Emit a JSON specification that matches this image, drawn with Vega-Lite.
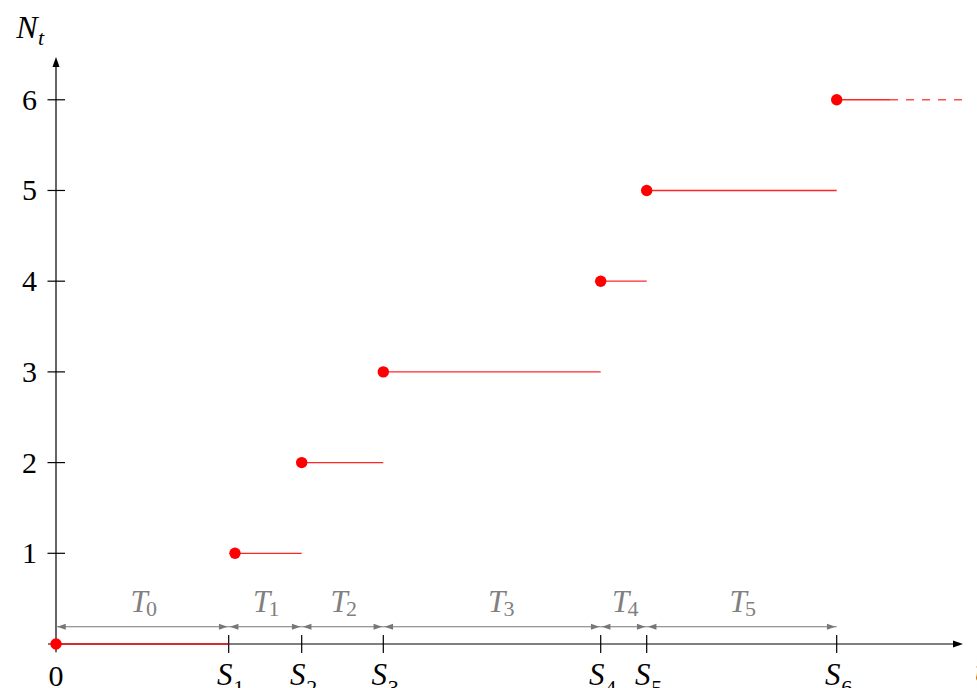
{
  "$schema": "https://vega.github.io/schema/vega-lite/v6.json",
  "width": 921,
  "height": 644,
  "autosize": {"type": "none"},
  "padding": {"left": 56, "top": 0, "right": 0, "bottom": 44},
  "config": {"view": {"stroke": null}, "text": {"font": "Liberation Serif, Times New Roman, DejaVu Serif, serif"}},
  "datasets": {
    "segs": [
      {"level": 0, "x0": 0, "x1": 1.727},
      {"level": 1, "x0": 1.79, "x1": 2.457},
      {"level": 2, "x0": 2.457, "x1": 3.273},
      {"level": 3, "x0": 3.273, "x1": 5.447},
      {"level": 4, "x0": 5.447, "x1": 5.907},
      {"level": 5, "x0": 5.907, "x1": 7.807},
      {"level": 6, "x0": 7.807, "x1": 8.34}
    ],
    "tail": [{"level": 6, "x0": 8.34, "x1": 9.07}],
    "events": [
      {"k": "1", "s": 1.727},
      {"k": "2", "s": 2.457},
      {"k": "3", "s": 3.273},
      {"k": "4", "s": 5.447},
      {"k": "5", "s": 5.907},
      {"k": "6", "s": 7.807}
    ],
    "intervals": [
      {"k": "0", "a": 0, "b": 1.727, "lx": 0.865},
      {"k": "1", "a": 1.727, "b": 2.457, "lx": 2.09},
      {"k": "2", "a": 2.457, "b": 3.273, "lx": 2.865},
      {"k": "3", "a": 3.273, "b": 5.447, "lx": 4.44},
      {"k": "4", "a": 5.447, "b": 5.907, "lx": 5.68},
      {"k": "5", "a": 5.907, "b": 7.807, "lx": 6.855}
    ],
    "one": [{}]
  },
  "layer": [
    {
      "data": {"name": "one"},
      "mark": {"type": "rule", "color": "black", "strokeWidth": 1.2},
      "encoding": {
        "x": {"datum": -0.08, "type": "quantitative", "scale": {"domain": [0, 9.21], "nice": false, "zero": false}, "axis": null},
        "x2": {"datum": 9.0},
        "y": {"datum": 0, "type": "quantitative", "scale": {"domain": [0, 7.1], "nice": false, "zero": false}, "axis": null}
      }
    },
    {
      "data": {"name": "one"},
      "mark": {"type": "rule", "color": "black", "strokeWidth": 1.2},
      "encoding": {
        "x": {"datum": 0, "type": "quantitative"},
        "y": {"datum": -0.09, "type": "quantitative"},
        "y2": {"datum": 6.42}
      }
    },
    {
      "data": {"name": "one"},
      "mark": {"type": "point", "shape": "M-1,-0.7L1,0L-1,0.7Z", "filled": true, "color": "black", "opacity": 1, "size": 100},
      "encoding": {
        "x": {"datum": 9.02, "type": "quantitative"},
        "y": {"datum": 0, "type": "quantitative"}
      }
    },
    {
      "data": {"name": "one"},
      "mark": {"type": "point", "shape": "M-0.7,1L0,-1L0.7,1Z", "filled": true, "color": "black", "opacity": 1, "size": 100},
      "encoding": {
        "x": {"datum": 0, "type": "quantitative"},
        "y": {"datum": 6.417, "type": "quantitative"}
      }
    },
    {
      "data": {"name": "events"},
      "mark": {"type": "rule", "color": "black", "strokeWidth": 1.2},
      "encoding": {
        "x": {"field": "s", "type": "quantitative"},
        "y": {"datum": -0.1, "type": "quantitative"},
        "y2": {"datum": 0.1}
      }
    },
    {
      "data": {"name": "segs"},
      "transform": [{"filter": "datum.level > 0"}],
      "mark": {"type": "rule", "color": "black", "strokeWidth": 1.2},
      "encoding": {
        "y": {"field": "level", "type": "quantitative"},
        "x": {"datum": -0.085, "type": "quantitative"},
        "x2": {"datum": 0.09}
      }
    },
    {
      "data": {"name": "intervals"},
      "mark": {"type": "rule", "color": "#777777", "strokeWidth": 1.2},
      "encoding": {
        "x": {"field": "a", "type": "quantitative"},
        "x2": {"field": "b"},
        "y": {"datum": 0.19, "type": "quantitative"}
      }
    },
    {
      "data": {"name": "intervals"},
      "mark": {"type": "point", "shape": "M-1,-0.7L1,0L-1,0.7Z", "filled": true, "color": "#777777", "opacity": 1, "size": 72, "xOffset": -5.5},
      "encoding": {
        "x": {"field": "b", "type": "quantitative"},
        "y": {"datum": 0.19, "type": "quantitative"}
      }
    },
    {
      "data": {"name": "intervals"},
      "mark": {"type": "point", "shape": "M1,-0.7L-1,0L1,0.7Z", "filled": true, "color": "#777777", "opacity": 1, "size": 72, "xOffset": 5.5},
      "encoding": {
        "x": {"field": "a", "type": "quantitative"},
        "y": {"datum": 0.19, "type": "quantitative"}
      }
    },
    {
      "data": {"name": "segs"},
      "mark": {"type": "rule", "color": "#ff0000", "strokeWidth": 1.3, "opacity": 0.85},
      "encoding": {
        "x": {"field": "x0", "type": "quantitative"},
        "x2": {"field": "x1"},
        "y": {"field": "level", "type": "quantitative"}
      }
    },
    {
      "data": {"name": "tail"},
      "mark": {"type": "rule", "color": "#ff0000", "strokeWidth": 1.3, "opacity": 0.7, "strokeDash": [8, 8]},
      "encoding": {
        "x": {"field": "x0", "type": "quantitative"},
        "x2": {"field": "x1"},
        "y": {"field": "level", "type": "quantitative"}
      }
    },
    {
      "data": {"name": "segs"},
      "mark": {"type": "point", "shape": "circle", "filled": true, "color": "#ff0000", "opacity": 1, "size": 130},
      "encoding": {
        "x": {"field": "x0", "type": "quantitative"},
        "y": {"field": "level", "type": "quantitative"}
      }
    },
    {
      "data": {"name": "segs"},
      "transform": [{"filter": "datum.level > 0"}],
      "mark": {"type": "text", "fontSize": 30, "align": "right", "baseline": "alphabetic", "dx": -19, "dy": 10, "color": "black"},
      "encoding": {
        "x": {"datum": 0, "type": "quantitative"},
        "y": {"field": "level", "type": "quantitative"},
        "text": {"field": "level", "type": "quantitative"}
      }
    },
    {
      "data": {"name": "one"},
      "mark": {"type": "text", "fontSize": 30, "align": "center", "baseline": "alphabetic", "dy": 42, "color": "black"},
      "encoding": {
        "x": {"datum": 0, "type": "quantitative"},
        "y": {"datum": 0, "type": "quantitative"},
        "text": {"value": "0"}
      }
    },
    {
      "data": {"name": "events"},
      "mark": {"type": "text", "fontStyle": "italic", "fontSize": 31, "align": "center", "baseline": "alphabetic", "dx": -4, "dy": 41, "color": "black"},
      "encoding": {
        "x": {"field": "s", "type": "quantitative"},
        "y": {"datum": 0, "type": "quantitative"},
        "text": {"value": "S"}
      }
    },
    {
      "data": {"name": "events"},
      "mark": {"type": "text", "fontSize": 22, "align": "left", "baseline": "alphabetic", "dx": 4.5, "dy": 51, "color": "black"},
      "encoding": {
        "x": {"field": "s", "type": "quantitative"},
        "y": {"datum": 0, "type": "quantitative"},
        "text": {"field": "k", "type": "nominal"}
      }
    },
    {
      "data": {"name": "intervals"},
      "mark": {"type": "text", "fontStyle": "italic", "fontSize": 31, "align": "center", "baseline": "alphabetic", "dx": -3.5, "color": "#808080"},
      "encoding": {
        "x": {"field": "lx", "type": "quantitative"},
        "y": {"datum": 0.353, "type": "quantitative"},
        "text": {"value": "T"}
      }
    },
    {
      "data": {"name": "intervals"},
      "mark": {"type": "text", "fontSize": 22, "align": "left", "baseline": "alphabetic", "dx": 3.5, "dy": 4, "color": "#808080"},
      "encoding": {
        "x": {"field": "lx", "type": "quantitative"},
        "y": {"datum": 0.353, "type": "quantitative"},
        "text": {"field": "k", "type": "nominal"}
      }
    },
    {
      "data": {"name": "one"},
      "mark": {"type": "text", "fontStyle": "italic", "fontSize": 32, "align": "center", "baseline": "alphabetic", "dx": -29, "color": "black"},
      "encoding": {
        "x": {"datum": 0, "type": "quantitative"},
        "y": {"datum": 6.68, "type": "quantitative"},
        "text": {"value": "N"}
      }
    },
    {
      "data": {"name": "one"},
      "mark": {"type": "text", "fontStyle": "italic", "fontSize": 22, "align": "left", "baseline": "alphabetic", "dx": -18, "dy": 7, "color": "black"},
      "encoding": {
        "x": {"datum": 0, "type": "quantitative"},
        "y": {"datum": 6.68, "type": "quantitative"},
        "text": {"value": "t"}
      }
    },
    {
      "data": {"name": "one"},
      "mark": {"type": "text", "fontStyle": "italic", "fontSize": 31, "align": "left", "baseline": "alphabetic", "dy": 37, "color": "black"},
      "encoding": {
        "x": {"datum": 9.19, "type": "quantitative"},
        "y": {"datum": 0, "type": "quantitative"},
        "text": {"value": "t"}
      }
    }
  ]
}
